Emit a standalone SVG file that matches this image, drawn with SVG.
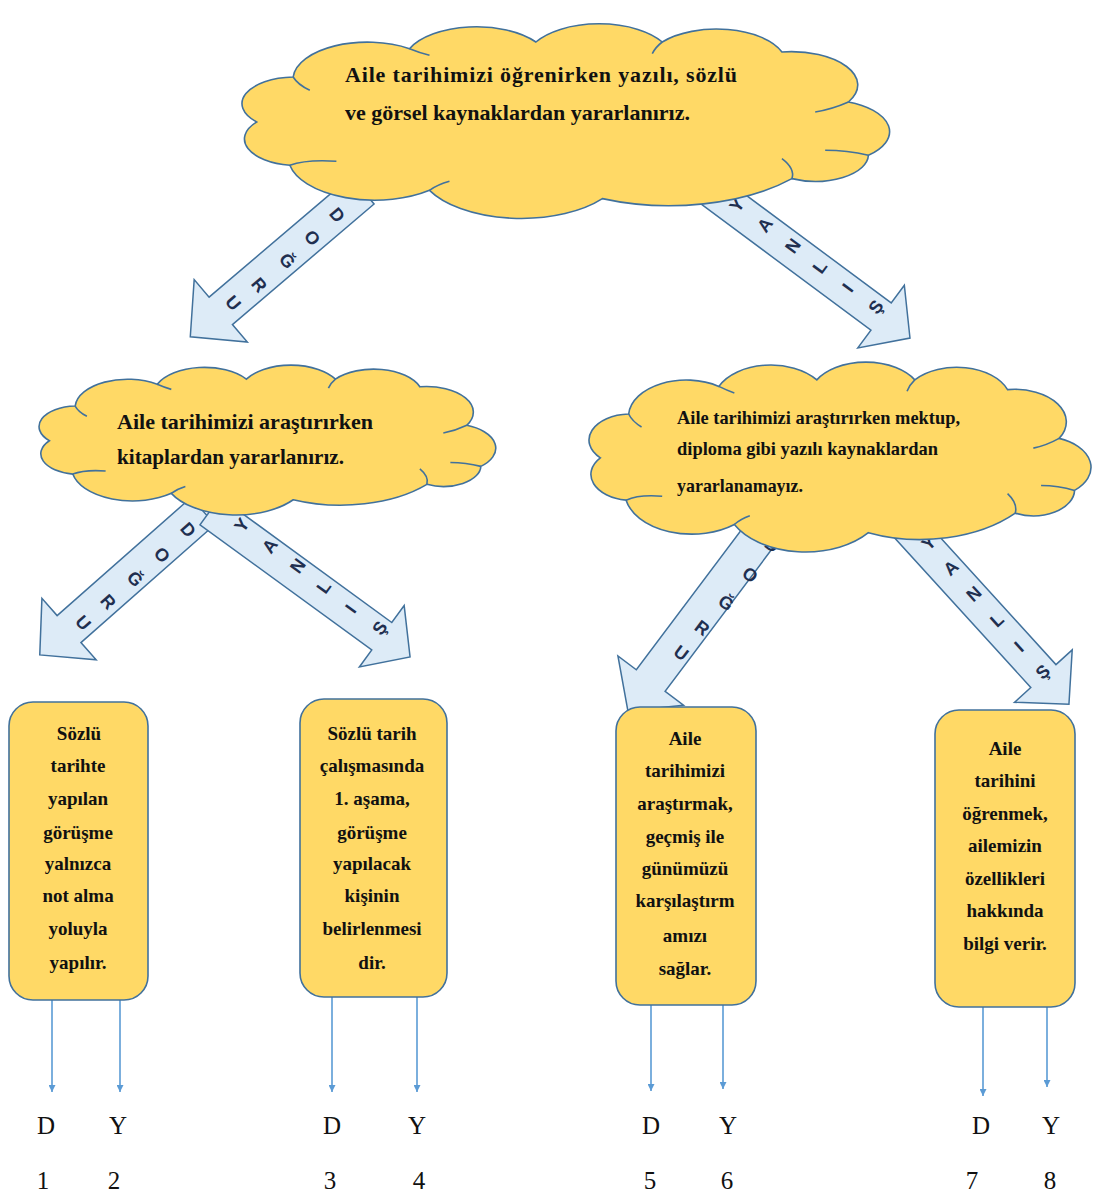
<svg xmlns="http://www.w3.org/2000/svg" width="1104" height="1197" viewBox="0 0 1104 1197">
<style>
.cloud{fill:#FFD966;stroke:#41719C;stroke-width:1.6;vector-effect:non-scaling-stroke}
.stub{fill:none;stroke:#41719C;stroke-width:1.6;vector-effect:non-scaling-stroke}
.bigarrow{fill:#DDEBF7;stroke:#41719C;stroke-width:1.5;stroke-linejoin:miter}
.al{font-family:"Liberation Sans",Arial,sans-serif;font-weight:bold;font-size:18px;fill:#1F2F50;text-anchor:middle;dominant-baseline:central}
.ct{font-family:"Liberation Serif","Times New Roman",serif;font-weight:bold;fill:#111}
.box{fill:#FFD966;stroke:#41719C;stroke-width:1.6}
.bt{font-family:"Liberation Serif","Times New Roman",serif;font-weight:bold;font-size:19px;fill:#111;text-anchor:middle}
.conn{stroke:#5B9BD5;stroke-width:1.6;fill:none}
.lbl{font-family:"Liberation Serif","Times New Roman",serif;font-size:25px;fill:#111;text-anchor:middle}
</style>
<defs>
<marker id="ah" viewBox="0 0 10 10" refX="10" refY="5" markerWidth="7" markerHeight="7" markerUnits="userSpaceOnUse" orient="auto">
<path d="M0,0 L10,5 L0,10 Z" fill="#5B9BD5"/>
</marker>
<g id="cloudshape">
<path class="cloud" d="M40,300 A80,80 0 0 1 95,165 A112,112 0 0 1 270,80 A110,110 0 0 1 460,60 A110,110 0 0 1 650,60 A105,105 0 0 1 830,90 A100,100 0 0 1 930,240 A95,95 0 0 1 960,400 A80,80 0 0 1 845,470 A250,250 0 0 1 560,530 A155,155 0 0 1 300,505 A130,130 0 0 1 90,430 A80,80 0 0 1 40,300 Z"/>
<path class="stub" d="M90,430 Q115,412 160,418"/>
<path class="stub" d="M95,165 Q102,188 120,205"/>
<path class="stub" d="M270,80 Q285,92 300,100"/>
<path class="stub" d="M650,60 Q640,75 635,95"/>
<path class="stub" d="M930,240 Q905,262 880,270"/>
<path class="stub" d="M960,400 Q928,385 895,385"/>
<path class="stub" d="M845,470 Q850,440 830,410"/>
<path class="stub" d="M300,505 Q312,488 330,478"/>
</g>
</defs>

<g id="connectors">
<g id="arrow-dogru-1">
<path class="bigarrow" transform="translate(362.4,190.3) rotate(139.6)" d="M0,-18 H186 V-41 L226,0 L186,41 V18 H0 Z"/>
<text class="al" transform="translate(337,215) rotate(49.6)">D</text>
<text class="al" transform="translate(312,238) rotate(49.6)">O</text>
<text class="al" transform="translate(287,261) rotate(49.6)">Ğ</text>
<text class="al" transform="translate(259,285) rotate(49.6)">R</text>
<text class="al" transform="translate(233,303) rotate(49.6)">U</text>
</g>
<g id="arrow-yanlis-1">
<path class="bigarrow" transform="translate(712,191) rotate(36.6)" d="M0,-17 H210.6 V-39 L246.6,0 L210.6,39 V17 H0 Z"/>
<text class="al" transform="translate(737,205) rotate(-53.4)">Y</text>
<text class="al" transform="translate(765,225) rotate(-53.4)">A</text>
<text class="al" transform="translate(793,246) rotate(-53.4)">N</text>
<text class="al" transform="translate(820,267) rotate(-53.4)">L</text>
<text class="al" transform="translate(848,288) rotate(-53.4)">I</text>
<text class="al" transform="translate(876,307) rotate(-53.4)">Ş</text>
</g>
<g id="arrow-dogru-2">
<path class="bigarrow" transform="translate(203,511) rotate(138.6)" d="M0,-18 H178.6 V-41 L217.6,0 L178.6,41 V18 H0 Z"/>
<text class="al" transform="translate(188,530) rotate(48.6)">D</text>
<text class="al" transform="translate(162,555) rotate(48.6)">O</text>
<text class="al" transform="translate(135,579) rotate(48.6)">Ğ</text>
<text class="al" transform="translate(108,602) rotate(48.6)">R</text>
<text class="al" transform="translate(83,623) rotate(48.6)">U</text>
</g>
<g id="arrow-yanlis-2">
<path class="bigarrow" transform="translate(210,511) rotate(36.1)" d="M0,-17 H212.6 V-38 L247.6,0 L212.6,38 V17 H0 Z"/>
<text class="al" transform="translate(242,525) rotate(-53.9)">Y</text>
<text class="al" transform="translate(270,546) rotate(-53.9)">A</text>
<text class="al" transform="translate(298,566) rotate(-53.9)">N</text>
<text class="al" transform="translate(324,587) rotate(-53.9)">L</text>
<text class="al" transform="translate(351,609) rotate(-53.9)">I</text>
<text class="al" transform="translate(380,628) rotate(-53.9)">Ş</text>
</g>
<g id="arrow-dogru-3">
<path class="bigarrow" transform="translate(769,523) rotate(126.9)" d="M0,-18 H197 V-41 L235,0 L197,41 V18 H0 Z"/>
<text class="al" transform="translate(772,545) rotate(36.9)">D</text>
<text class="al" transform="translate(750,575) rotate(36.9)">O</text>
<text class="al" transform="translate(726,603) rotate(36.9)">Ğ</text>
<text class="al" transform="translate(702,628) rotate(36.9)">R</text>
<text class="al" transform="translate(681,653) rotate(36.9)">U</text>
</g>
<g id="arrow-yanlis-3">
<path class="bigarrow" transform="translate(905,524) rotate(47.7)" d="M0,-17 H205.6 V-39 L243.6,0 L205.6,39 V17 H0 Z"/>
<text class="al" transform="translate(929,543) rotate(-42.3)">Y</text>
<text class="al" transform="translate(951,568) rotate(-42.3)">A</text>
<text class="al" transform="translate(974,594) rotate(-42.3)">N</text>
<text class="al" transform="translate(997,620) rotate(-42.3)">L</text>
<text class="al" transform="translate(1019,647) rotate(-42.3)">I</text>
<text class="al" transform="translate(1043,672) rotate(-42.3)">Ş</text>
</g>
<line class="conn" x1="52" y1="1000" x2="52" y2="1092" marker-end="url(#ah)"/>
<line class="conn" x1="120" y1="1000" x2="120" y2="1092" marker-end="url(#ah)"/>
<line class="conn" x1="332" y1="997" x2="332" y2="1092" marker-end="url(#ah)"/>
<line class="conn" x1="417" y1="997" x2="417" y2="1092" marker-end="url(#ah)"/>
<line class="conn" x1="651" y1="1005" x2="651" y2="1091" marker-end="url(#ah)"/>
<line class="conn" x1="723" y1="1000" x2="723" y2="1089" marker-end="url(#ah)"/>
<line class="conn" x1="983" y1="1007" x2="983" y2="1096" marker-end="url(#ah)"/>
<line class="conn" x1="1047" y1="1000" x2="1047" y2="1087" marker-end="url(#ah)"/>
</g>

<g id="cloud-top">
<use href="#cloudshape" transform="translate(230,22) scale(0.665,0.3333)"/>
<text class="ct" font-size="22" x="345" y="82" textLength="392" lengthAdjust="spacing">Aile tarihimizi öğrenirken yazılı, sözlü</text>
<text class="ct" font-size="22" x="345" y="120" textLength="345" lengthAdjust="spacingAndGlyphs">ve görsel kaynaklardan yararlanırız.</text>
</g>

<g id="cloud-left">
<use href="#cloudshape" transform="translate(30.6,363.7) scale(0.469,0.2567)"/>
<text class="ct" font-size="21" x="117" y="429" textLength="256" lengthAdjust="spacingAndGlyphs">Aile tarihimizi araştırırken</text>
<text class="ct" font-size="21" x="117" y="464" textLength="227" lengthAdjust="spacingAndGlyphs">kitaplardan yararlanırız.</text>
</g>

<g id="cloud-right">
<use href="#cloudshape" transform="translate(579.7,360.4) scale(0.5155,0.325)"/>
<text class="ct" font-size="19" x="677" y="424" textLength="283" lengthAdjust="spacingAndGlyphs">Aile tarihimizi araştırırken mektup,</text>
<text class="ct" font-size="19" x="677" y="455" textLength="261" lengthAdjust="spacingAndGlyphs">diploma gibi yazılı kaynaklardan</text>
<text class="ct" font-size="19" x="677" y="492" textLength="126" lengthAdjust="spacingAndGlyphs">yararlanamayız.</text>
</g>

<g id="box-1">
<rect class="box" x="9" y="702" width="139" height="298" rx="24"/>
<text class="bt" x="79" y="740">Sözlü</text>
<text class="bt" x="78" y="772">tarihte</text>
<text class="bt" x="78" y="805">yapılan</text>
<text class="bt" x="78" y="839">görüşme</text>
<text class="bt" x="78" y="870">yalnızca</text>
<text class="bt" x="78" y="902">not alma</text>
<text class="bt" x="78" y="935">yoluyla</text>
<text class="bt" x="78" y="969">yapılır.</text>
</g>

<g id="box-2">
<rect class="box" x="300" y="699" width="147" height="298" rx="24"/>
<text class="bt" x="372" y="740">Sözlü tarih</text>
<text class="bt" x="372" y="772">çalışmasında</text>
<text class="bt" x="372" y="805">1. aşama,</text>
<text class="bt" x="372" y="839">görüşme</text>
<text class="bt" x="372" y="870">yapılacak</text>
<text class="bt" x="372" y="902">kişinin</text>
<text class="bt" x="372" y="935">belirlenmesi</text>
<text class="bt" x="372" y="969">dir.</text>
</g>

<g id="box-3">
<rect class="box" x="616" y="707" width="140" height="298" rx="24"/>
<text class="bt" x="685" y="745">Aile</text>
<text class="bt" x="685" y="777">tarihimizi</text>
<text class="bt" x="685" y="810">araştırmak,</text>
<text class="bt" x="685" y="843">geçmiş ile</text>
<text class="bt" x="685" y="875">günümüzü</text>
<text class="bt" x="685" y="907">karşılaştırm</text>
<text class="bt" x="685" y="942">amızı</text>
<text class="bt" x="685" y="975">sağlar.</text>
</g>

<g id="box-4">
<rect class="box" x="935" y="710" width="140" height="297" rx="24"/>
<text class="bt" x="1005" y="755">Aile</text>
<text class="bt" x="1005" y="787">tarihini</text>
<text class="bt" x="1005" y="820">öğrenmek,</text>
<text class="bt" x="1005" y="852">ailemizin</text>
<text class="bt" x="1005" y="885">özellikleri</text>
<text class="bt" x="1005" y="917">hakkında</text>
<text class="bt" x="1005" y="950">bilgi verir.</text>
</g>

<g id="answer-labels">
<text class="lbl" x="46" y="1134">D</text>
<text class="lbl" x="118" y="1134">Y</text>
<text class="lbl" x="43" y="1189">1</text>
<text class="lbl" x="114" y="1189">2</text>
<text class="lbl" x="332" y="1134">D</text>
<text class="lbl" x="417" y="1134">Y</text>
<text class="lbl" x="330" y="1189">3</text>
<text class="lbl" x="419" y="1189">4</text>
<text class="lbl" x="651" y="1134">D</text>
<text class="lbl" x="728" y="1134">Y</text>
<text class="lbl" x="650" y="1189">5</text>
<text class="lbl" x="727" y="1189">6</text>
<text class="lbl" x="981" y="1134">D</text>
<text class="lbl" x="1051" y="1134">Y</text>
<text class="lbl" x="972" y="1189">7</text>
<text class="lbl" x="1050" y="1189">8</text>
</g>
</svg>
